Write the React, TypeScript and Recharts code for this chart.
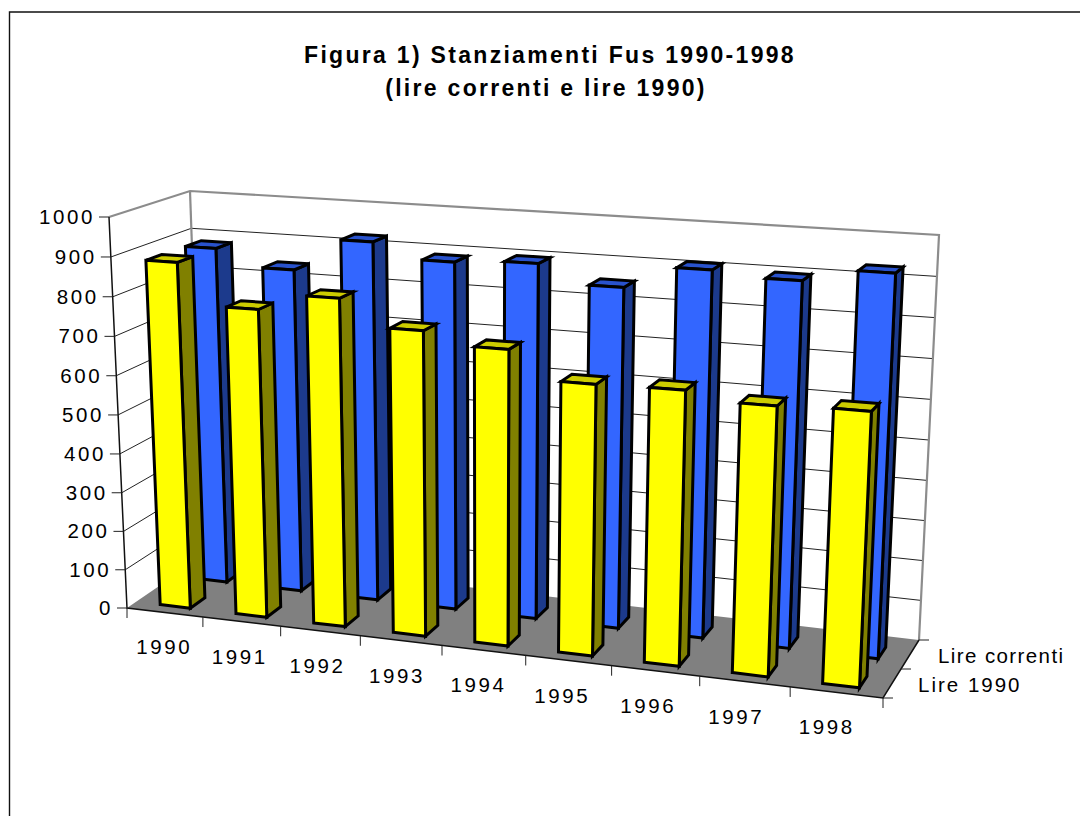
import React from "react";
import { BarChart, Bar, XAxis, YAxis, CartesianGrid, Customized } from "recharts";

const years = ["1990", "1991", "1992", "1993", "1994", "1995", "1996", "1997", "1998"];
const lire1990 = [887, 783, 825, 760, 730, 662, 665, 645, 650];
const lireCorrenti = [885, 843, 928, 890, 900, 855, 912, 900, 932];
const valueTicks = [0, 100, 200, 300, 400, 500, 600, 700, 800, 900, 1000];
const seriesNames = ["Lire 1990", "Lire correnti"];
const titleLines = ["Figura 1) Stanziamenti Fus 1990-1998", "(lire correnti e lire 1990)"];

const data = years.map((year, i) => ({ year, lire1990: lire1990[i], lireCorrenti: lireCorrenti[i] }));

const FONT = "'Liberation Sans', Arial, sans-serif";
const PX = 100, PY = 100, PW = 900, PH = 600;
const BAR = 40;

type Pt = [number, number];
const A: Pt = [127, 608], B: Pt = [883, 698], E: Pt = [203, 556], F: Pt = [919, 640];
const C: Pt = [109, 217], D: Pt = [903, 264], G: Pt = [190, 191], H: Pt = [939, 235];
const lerp = (p: Pt, q: Pt, t: number): Pt => [p[0] + (q[0] - p[0]) * t, p[1] + (q[1] - p[1]) * t];
const W = 1.12;
function proj(u: number, v: number, h: number): Pt {
  const t = u / (u + W * (1 - u));
  const hp = h * (1 - 0.025 * (1 - h));
  const fb = lerp(A, B, t), bb = lerp(E, F, t), ft = lerp(C, D, t), bt = lerp(G, H, t);
  return lerp(lerp(fb, bb, v), lerp(ft, bt, v), hp);
}
const uOf = (x: number) => (x - PX) / PW;
const hOf = (y: number) => (PY + PH - y) / PH;
const pts = (a: Pt[]) => a.map((p) => `${p[0].toFixed(1)},${p[1].toFixed(1)}`).join(" ");
const barU = (u: number) => u + 0.0025 * (1 - u);

function barShape(v0: number, v1: number, front: string, side: string, top: string) {
  return (props: any) => {
    const { x, y, width, height } = props;
    const u0 = barU(uOf(x)), u1 = barU(uOf(x + width)), h0 = hOf(y + height), h1 = hOf(y);
    const common = { stroke: "#000", strokeWidth: 3, strokeLinejoin: "miter" as const };
    return (
      <g>
        <polygon points={pts([proj(u1, v0, h0), proj(u1, v1, h0), proj(u1, v1, h1), proj(u1, v0, h1)])} fill={side} {...common} />
        <polygon points={pts([proj(u0, v0, h1), proj(u1, v0, h1), proj(u1, v1, h1), proj(u0, v1, h1)])} fill={top} {...common} />
        <polygon points={pts([proj(u0, v0, h0), proj(u1, v0, h0), proj(u1, v0, h1), proj(u0, v0, h1)])} fill={front} {...common} />
      </g>
    );
  };
}

function GridLine(props: any) {
  const h = hOf(props.y1);
  if (h < 0.001 || h > 0.999) return <g key={props.key} />;
  return (
    <g key={props.key}>
      <polyline points={pts([proj(0, 0, h), proj(0, 1, h), proj(1, 1, h)])} fill="none" stroke="#222" strokeWidth={1} />
    </g>
  );
}

function Walls() {
  return (
    <g>
      <polygon points={pts([proj(0, 0, 0), proj(1, 0, 0), proj(1, 1, 0), proj(0, 1, 0)])} fill="#808080" />
      <polyline points={pts([proj(0, 0, 1), proj(0, 1, 1), proj(1, 1, 1), proj(1, 1, 0)])} fill="none" stroke="#8c8c8c" strokeWidth={2.2} />
      <line x1={proj(0, 1, 1)[0]} y1={proj(0, 1, 1)[1]} x2={proj(0, 1, 0)[0]} y2={proj(0, 1, 0)[1]} stroke="#8c8c8c" strokeWidth={2.2} />
      <polyline points={pts([proj(0, 0, 1), proj(0, 0, 0), proj(1, 0, 0), proj(1, 1, 0)])} fill="none" stroke="#111" strokeWidth={1.5} />
    </g>
  );
}

function Overlay() {
  const ys = [63, 96];
  const xs = [550, 546];
  return (
    <g fontFamily={FONT}>
      <path d="M9.5 1000 V12 H1080" fill="none" stroke="#111" strokeWidth={1.4} />
      {titleLines.map((t, i) => (
        <text key={t} x={xs[i]} y={ys[i]} textAnchor="middle" fontSize={23} fontWeight="bold" letterSpacing={2.3} fill="#000">
          {t}
        </text>
      ))}
      {[0, 0.5, 1].map((v) => {
        const a = proj(1, v, 0);
        return <line key={v} x1={a[0]} y1={a[1]} x2={a[0] + 10} y2={a[1]} stroke="#222" strokeWidth={1} />;
      })}
      <text x={918} y={692} fontSize={20.5} letterSpacing={2} fill="#000">{seriesNames[0]}</text>
      <text x={938} y={663} fontSize={20.5} letterSpacing={1.4} fill="#000">{seriesNames[1]}</text>
    </g>
  );
}

function XTick(props: any) {
  const { x, payload, index } = props;
  const band = PW / years.length;
  const uc = uOf(x);
  const c = proj(uc, 0, 0);
  const marks = [uOf(x - band / 2)];
  if (index === years.length - 1) marks.push(uOf(x + band / 2));
  return (
    <g>
      {marks.map((u) => {
        const p = proj(u, 0, 0);
        return <line key={u} x1={p[0]} y1={p[1]} x2={p[0]} y2={p[1] + 10} stroke="#222" strokeWidth={1} />;
      })}
      <text x={c[0] - 10 * uc} y={c[1] + 42} textAnchor="middle" fontSize={20.5} letterSpacing={2.6} fontFamily={FONT} fill="#000">
        {payload.value}
      </text>
    </g>
  );
}

function YTick(props: any) {
  const { y, payload } = props;
  const p = proj(0, 0, hOf(y));
  return (
    <g>
      <line x1={p[0] - 10} y1={p[1]} x2={p[0]} y2={p[1]} stroke="#222" strokeWidth={1} />
      <text x={p[0] - 14} y={p[1] + 7} textAnchor="end" fontSize={20.5} letterSpacing={2.6} fontFamily={FONT} fill="#000">
        {payload.value}
      </text>
    </g>
  );
}

export default function App() {
  return (
    <div style={{ position: "absolute", left: 0, top: 0, width: 1080, height: 816, background: "#fff" }}>
      <BarChart
        width={1080}
        height={816}
        data={data}
        margin={{ top: PY, left: 40, right: 1080 - PX - PW, bottom: 86 }}
        barSize={BAR}
        barGap={-BAR}
      >
        <Customized component={<Walls />} />
        <CartesianGrid vertical={false} horizontal={GridLine as any} />
        <XAxis dataKey="year" height={30} axisLine={false} tickLine={false} tick={<XTick />} interval={0} />
        <YAxis width={60} domain={[0, 1000]} ticks={valueTicks} axisLine={false} tickLine={false} tick={<YTick />} interval={0} />
        <Bar dataKey="lireCorrenti" name={seriesNames[1]} isAnimationActive={false} shape={barShape(0.62, 0.82, "#3366ff", "#1c3a8c", "#2952cc")} />
        <Bar dataKey="lire1990" name={seriesNames[0]} isAnimationActive={false} shape={barShape(0.12, 0.32, "#ffff00", "#808000", "#cccc00")} />
        <Customized component={<Overlay />} />
      </BarChart>
    </div>
  );
}
